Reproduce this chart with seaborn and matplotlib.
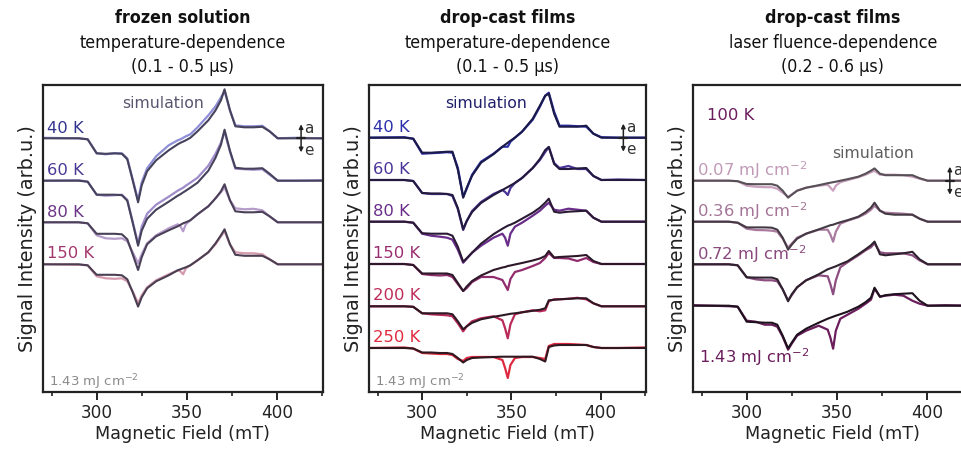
import numpy as np
import matplotlib
matplotlib.use("Agg")
import matplotlib.pyplot as plt
import matplotlib.font_manager as fm
from matplotlib.ticker import MultipleLocator
import seaborn as sns

# ---------------- data ----------------
# magnetic field grid (mT) shared by all traces
field = [270, 290, 295, 300, 305, 310, 314, 317, 320, 323, 325, 328, 333, 340, 345, 346.5,
         348, 349.5, 352, 356, 362, 366, 369, 371, 374, 377, 382, 387, 392, 396, 400.5, 410, 425]

# panel 1: frozen solution, temperature dependence
fs_labels = ["40 K", "60 K", "80 K", "150 K"]
fs_offsets = [253.7, 211.3, 169.7, 127.7]
fs_40_exp = [0.5, 0, -1, -15, -16, -15, -15, -20, -41, -62, -44, -30, -18, -7, -2, -1, 0.5, 2, 4, 11, 23, 32, 41, 47, 28, 13, 12, 12, 12.5, 7, 0, 0.5, 0]
fs_40_sim = [0, 0, -1, -15, -15.5, -15, -15.5, -21, -42, -64, -47, -33, -22, -12, -6, -4.5, -3.3, -2, 0.5, 7, 18, 28, 38, 49, 28, 12, 11, 11, 11.5, 7, 0, 0, 0]
fs_60_exp = [0, 0.5, -1, -14, -15, -14.5, -14, -19, -41, -63, -46, -33, -24, -16, -10, -8.5, -7, -5, -2, 3, 15, 27, 38, 49, 29, 12, 11.5, 11, 11.5, 6, 0, 0, 0.5]
fs_60_sim = [0, 0, -1, -14, -14, -14, -14.5, -20, -42, -65, -50, -38, -29, -21, -15, -13.5, -11.7, -10, -7, -2, 10, 23, 36, 51, 30, 13, 12, 12, 12.5, 7, 0, 0, 0]
fs_80_exp = [0, 0, -1, -13, -16, -16.5, -16, -19, -30, -41, -32, -21, -13, -6, -2, -4, -9, -2, 2, 8, 16, 24, 30, 35, 22, 14, 13, 13.5, 12, 6, 0, 0, 0]
fs_80_sim = [0, 0, -1, -11.5, -11.5, -11.5, -12, -17, -32, -47.7, -35, -22, -14, -8, -4, -2.5, -1, 0, 2, 8, 16, 24, 31, 38, 22, 11, 10, 10, 10.5, 6, 0, 0, 0]
fs_150_exp = [0, -0.5, -1, -12, -14, -14.5, -14, -17, -27, -39, -31, -23, -16, -10, -6, -7, -10, -4, -1, 4, 12, 20, 28, 33, 20, 12, 11, 11, 10, 5, 0, 0, 0]
fs_150_sim = [0, 0, -1, -10.5, -10.5, -10.5, -11, -15, -28, -42.3, -33, -24, -17, -11, -6, -5, -4, -3, -1, 4, 12, 21, 29, 35, 20, 9.5, 8.5, 8.5, 8.5, 5, 0, 0, 0]

# panel 2: drop-cast films, temperature dependence
dt_labels = ["40 K", "60 K", "80 K", "150 K", "200 K", "250 K"]
dt_offsets = [254.3, 212, 170.3, 128, 85.7, 44]
dt_40_exp = [0, 0.5, -1, -16, -15.5, -15, -14.5, -15, -30, -59, -51, -37, -24, -16, -9, -9, -9, -4, 0, 6, 18, 31, 42, 45, 26, 12, 12, 11.5, 11, 4, 0.5, 0, 0]
dt_40_sim = [0, 0, -1, -15, -15, -14.5, -14, -14, -32, -60, -50, -38, -25, -16.5, -9, -7, -5, -3, 0, 6, 19, 32, 42, 44, 24, 11, 11, 11, 12, 4, 0, 0, 0]
dt_60_exp = [0, 0, -1, -13, -14, -14, -14, -16, -29, -50, -41, -31, -22, -14, -10, -12, -15, -8, -3, 2, 12, 20, 28, 33, 17, 12, 14, 11, 11, 4, 0, 0.5, 0]
dt_60_sim = [0, 0, -1, -13, -13.5, -13.5, -14, -15, -28, -49, -41, -32, -23, -15, -10, -8.5, -7, -5.5, -3, 2, 12, 21, 30, 33, 16, 11, 11, 11.5, 12, 4, 0, 0, 0]
dt_80_exp = [0, 0, -1, -12, -14, -15, -16, -18, -28, -41, -37, -31, -24, -16, -12, -16, -24, -12, -5, -1, 6, 11, 16, 19, 12, 11, 13, 12, 11, 4, 0, 0, 0]
dt_80_sim = [0, 0, -1, -11.5, -12, -12, -12, -14, -25, -40, -36.5, -31, -22, -12.5, -7, -5.5, -4, -3, -1, 3, 9, 14, 19, 23, 10, 9, 10, 10.5, 11, 4, 0, 0, 0]
dt_150_exp = [0, 0, -1, -10, -11, -11.5, -11, -13, -20, -27, -24, -18, -13, -13, -16, -21, -26, -15, -8, -6, -2, 1, 6, 11, 6, 6, 5.5, 3, 6, 2, 0, 0, 0]
dt_150_sim = [0, 0, -1, -9.5, -9.5, -9.5, -9.5, -11, -19, -27, -22.5, -17, -11.5, -6, -3.5, -3, -2, -1.5, -0.5, 1, 3.5, 5.5, 8, 13, 6.5, 7, 7.5, 8, 9, 3, 0, 0, 0]
dt_200_exp = [0, 0, -0.5, -7, -8, -8.5, -9, -10, -17, -25, -20, -15, -12, -10, -14, -22, -32, -18, -8, -6, -4, -5, -4, 5, 7, 7, 7.5, 8.5, 7, 3, 0, 0, 0]
dt_200_sim = [0, 0, -0.5, -7, -7, -7, -7, -8, -15, -23, -20, -16.5, -13, -10.5, -9, -8.5, -8, -7.5, -7, -6, -4.5, -3.5, -2, 6, 6.5, 7, 7.5, 8, 8, 3, 0, 0, 0]
dt_250_exp = [0, 0.5, -0.5, -5, -5.5, -6, -6, -7, -11, -13, -10, -9, -9, -9, -12, -20, -30, -17, -10, -9, -9, -10, -11, 2, 4, 4, 4, 3.5, 3, 1, 0, 0, 0.5]
dt_250_sim = [0, 0, -0.5, -4.5, -4.5, -5, -5, -6, -10, -14.5, -12, -10, -9.5, -9, -8.7, -8.7, -8.7, -8.7, -8.7, -8.7, -8.7, -11, -13.5, 1, 2.5, 3, 3, 3, 3, 1, 0, 0, 0]

# panel 3: drop-cast films, laser fluence dependence (100 K)
lf_labels = ["0.07 mJ cm$^{-2}$", "0.36 mJ cm$^{-2}$", "0.72 mJ cm$^{-2}$", "1.43 mJ cm$^{-2}$"]
lf_offsets = [211.3, 170.3, 127.7, 86.3]
lf_007_exp = [0, 0, -0.5, -5, -6, -6.5, -6.5, -8, -12, -16, -14, -10, -7, -5, -4, -7, -10, -5, -1.5, 0.5, 3.5, 6, 8.5, 10, 6, 6, 6, 5.5, 4, 2, 0, 0, 0]
lf_007_sim = [0, 0, -0.5, -3.3, -3.5, -3.5, -3.5, -5, -10, -17, -14, -10, -7, -4.5, -2.5, -2, -1.5, -1, 0, 1.5, 4, 7, 10, 12.3, 7, 5.5, 5.5, 5.5, 5.5, 2.5, 0, 0, 0]
lf_036_exp = [0, 0, -1, -7, -8.3, -8.5, -9, -10, -17, -26, -22, -16, -12, -8, -8, -13, -20, -10, -2, 1, 4.5, 8, 12, 16, 11, 9, 8.5, 8, 7, 3, 0, 0, 0]
lf_036_sim = [0, 0, -1, -5.7, -5.7, -5.7, -6, -8, -16, -28, -23, -17, -12, -7.7, -4.5, -3.5, -3, -2, -0.5, 1.5, 5, 9.5, 14, 19, 11, 8, 7, 7, 7, 3, 0, 0, 0]
lf_072_exp = [0, 0, -1, -13, -15, -16, -16, -17, -25, -36, -31, -23, -16, -11, -12, -20, -30, -16, -3, 2, 9, 14, 17, 21, 12, 11, 11, 11, 9, 4, 0, 0, 0]
lf_072_sim = [0, 0, -1, -13, -13.3, -13.3, -13.3, -15, -25, -37, -30, -23, -16, -10, -5, -4, -3, -2, 0, 3, 10, 15, 19, 22.7, 10, 9, 10, 11, 12.5, 5, 0, 0, 0]
lf_143_exp = [0.5, -0.5, -1, -15, -16, -19, -19, -21, -31, -44, -38, -30, -25, -20, -24, -32, -43, -25, -13, -9, -3, 2, 6, 17, 9, 10, 11, 10, 5, 2, 0, 0.5, 0]
lf_143_sim = [0, 0, -1, -16, -16.5, -17, -17, -19, -30, -42.7, -37, -29, -23, -17, -13, -12, -11, -10, -8.5, -6, -1, 3.5, 8, 18, 9, 10.5, 11.5, 12, 12.5, 5, 0, 0, 0]

x_ticks = [300, 350, 400]

# ---------------- style ----------------
sns.set_theme(style="ticks")
plt.rcParams["font.family"] = ["DejaVu Sans"]
plt.rcParams["mathtext.fontset"] = "dejavusans"

cond_reg = [f.fname for f in fm.fontManager.ttflist if f.fname.endswith("DejaVuSansCondensed.ttf")]
cond_bold = [f.fname for f in fm.fontManager.ttflist if f.fname.endswith("DejaVuSansCondensed-Bold.ttf")]
if cond_reg and cond_bold:
    tp_reg = fm.FontProperties(fname=cond_reg[0], size=12.8)
    tp_bold = fm.FontProperties(fname=cond_bold[0], size=12.8)
else:
    tp_reg = fm.FontProperties(family="DejaVu Sans", size=11.4)
    tp_bold = fm.FontProperties(family="DejaVu Sans", weight="bold", size=11.4)

fig = plt.figure(figsize=(9.61, 4.49), dpi=100)
W, H = 961.0, 449.0
ax_w = 279.7 / W
ax_h = 307 / H
ax_b = (449 - 392) / H
axes = [fig.add_axes([43 / W, ax_b, ax_w, ax_h]),
        fig.add_axes([369 / W, ax_b, 277 / W, ax_h]),
        fig.add_axes([693 / W, ax_b, ax_w, ax_h])]

panels = [
    dict(exp=[fs_40_exp, fs_60_exp, fs_80_exp, fs_150_exp],
         sim=[fs_40_sim, fs_60_sim, fs_80_sim, fs_150_sim],
         offsets=fs_offsets, labels=fs_labels,
         exp_c=["#8e8fd6", "#a08ccb", "#b69cca", "#d59aae"],
         sim_c=["#46425c", "#46425c", "#4a4058", "#4a3f52"],
         lab_c=["#34358f", "#4b3893", "#6b3585", "#a3386d"],
         title=("frozen solution", "temperature-dependence", "(0.1 - 0.5 µs)"),
         sim_txt=(336.8, 288.7, "#58566e"), arrow_off=253.7, arrow_x=413.5),
    dict(exp=[dt_40_exp, dt_60_exp, dt_80_exp, dt_150_exp, dt_200_exp, dt_250_exp],
         sim=[dt_40_sim, dt_60_sim, dt_80_sim, dt_150_sim, dt_200_sim, dt_250_sim],
         offsets=dt_offsets, labels=dt_labels,
         exp_c=["#2c30aa", "#4b3499", "#6a2d8a", "#912c6e", "#b92a58", "#de2a40"],
         sim_c=["#1b1a48", "#241a3e", "#2a1a34", "#2c1828", "#2e1824", "#301820"],
         lab_c=["#2c30aa", "#4b3499", "#6a2d8a", "#9a2e70", "#c02c5a", "#e02a40"],
         title=("drop-cast films", "temperature-dependence", "(0.1 - 0.5 µs)"),
         sim_txt=(335.9, 288.7, "#20206a"), arrow_off=254.3, arrow_x=412.8),
    dict(exp=[lf_007_exp, lf_036_exp, lf_072_exp, lf_143_exp],
         sim=[lf_007_sim, lf_036_sim, lf_072_sim, lf_143_sim],
         offsets=lf_offsets, labels=lf_labels,
         exp_c=["#c9a0bd", "#a97a9e", "#8c4d80", "#6b1d5c"],
         sim_c=["#575057", "#443a44", "#2e222e", "#1e121e"],
         lab_c=["#c09ab6", "#a47597", "#8a4a7e", "#6b1d5c"],
         title=("drop-cast films", "laser fluence-dependence", "(0.2 - 0.6 µs)"),
         sim_txt=(370.2, 238, "#5e5e5e"), arrow_off=211.3, arrow_x=412.8),
]

x = np.array(field)
for i, (ax, p) in enumerate(zip(axes, panels)):
    for ev, sv, off, ec, sc in zip(p["exp"], p["sim"], p["offsets"], p["exp_c"], p["sim_c"]):
        sns.lineplot(x=x, y=np.array(ev) + off, ax=ax, color=ec, lw=1.6)
        sns.lineplot(x=x, y=np.array(sv) + off, ax=ax, color=sc, lw=1.5)
    # trace labels
    for j, (lab, off, lc) in enumerate(zip(p["labels"], p["offsets"], p["lab_c"])):
        if i == 2 and j == 3:
            ax.text(273.4, off - 51, lab, color=lc, fontsize=11.8, ha="left", va="center")
        else:
            ax.text(272.6, off + 10.3, lab, color=lc, fontsize=11.8, ha="left", va="center")
    sx, sy, scol = p["sim_txt"]
    ax.text(sx, sy, "simulation", color=scol, fontsize=11.3, ha="center", va="center")
    # a / e arrow
    ax_x, ao = p["arrow_x"], p["arrow_off"]
    ax.annotate("", xy=(ax_x, ao + 14), xytext=(ax_x, ao - 14),
                arrowprops=dict(arrowstyle="<|-|>", lw=1.1, color="#222222",
                                mutation_scale=6, shrinkA=0, shrinkB=0))
    ax.plot([ax_x - 2.2, ax_x + 2.2], [ao, ao], color="#222222", lw=1.6)
    ax.text(ax_x + 1.8, ao + 10, "a", color="#333333", fontsize=11, ha="left", va="center")
    ax.text(ax_x + 1.8, ao - 12, "e", color="#333333", fontsize=11, ha="left", va="center")
    if i < 2:
        ax.text(273.4, 10.3, "1.43 mJ cm$^{-2}$", color="#8a8a8a", fontsize=9.5,
                ha="left", va="center")
    if i == 2:
        ax.text(277.8, 277, "100 K", color="#6b1d5c", fontsize=11.8, ha="left", va="center")

    ax.set_xlim(270.2, 425.5)
    ax.set_ylim(0, 307)
    ax.set_yticks([])
    ax.set_xticks(x_ticks)
    ax.xaxis.set_minor_locator(MultipleLocator(25))
    ax.tick_params(axis="x", which="major", length=6, width=1.4, labelsize=12.2,
                   colors="#222222", pad=3)
    ax.tick_params(axis="x", which="minor", length=3, width=1.2, colors="#222222")
    for s in ax.spines.values():
        s.set_visible(True)
        s.set_linewidth(1.6)
        s.set_color("#222222")
    ax.set_xlabel("Magnetic Field (mT)", fontsize=12.7, color="#222222", labelpad=2)
    ax.set_ylabel("Signal Intensity (arb.u.)", fontsize=13.9, color="#222222", labelpad=4)
    t1, t2, t3 = p["title"]
    ax.text(0.5, 1.218, t1, transform=ax.transAxes, ha="center", va="center",
            fontproperties=tp_bold, color="#111111")
    ax.text(0.5, 1.137, t2, transform=ax.transAxes, ha="center", va="center",
            fontproperties=tp_reg, color="#111111")
    ax.text(0.5, 1.059, t3, transform=ax.transAxes, ha="center", va="center",
            fontproperties=tp_reg, color="#111111")
    ax.set_facecolor("white")

fig.savefig("out.png", dpi=100, facecolor="white")
